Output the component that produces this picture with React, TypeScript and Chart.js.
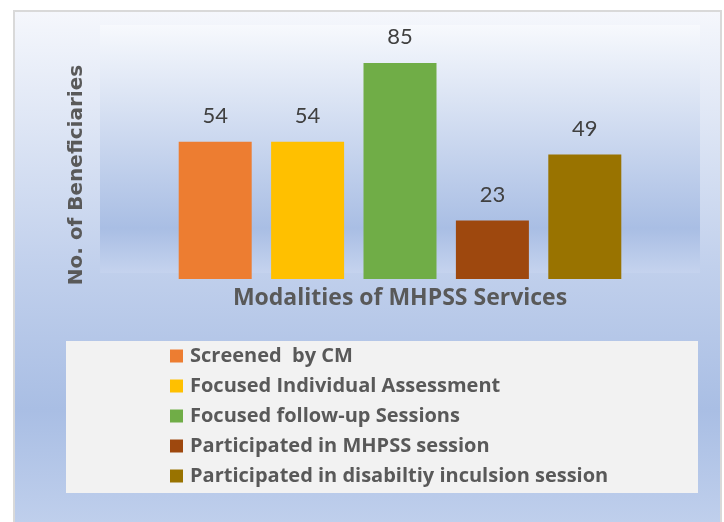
import React, { useEffect, useRef } from "react";
import { Chart, registerables } from "chart.js";

Chart.register(...registerables);

const categories = [
  "Screened  by CM",
  "Focused Individual Assessment",
  "Focused follow-up Sessions",
  "Participated in MHPSS session",
  "Participated in disabiltiy inculsion session",
];
const values = [54, 54, 85, 23, 49];
const colors = ["#ED7D31", "#FFC000", "#70AD47", "#9E480E", "#997300"];
const xTitle = "Modalities of MHPSS Services";
const yTitle = "No. of Beneficiaries";
const yMax = 100;

const decorPlugin = {
  id: "decor",
  beforeDraw(chart: any) {
    const { ctx, chartArea } = chart;
    const W = chart.width;
    const H = chart.height;
    ctx.save();
    ctx.fillStyle = "#ffffff";
    ctx.fillRect(0, 0, W, H);
    const fx = 14, fy = 11, fw = 707, fh = H - fy + 5;
    const g = ctx.createLinearGradient(0, fy, 0, H);
    g.addColorStop(0, "#f5f7fc");
    g.addColorStop(0.5, "#c1d0ec");
    g.addColorStop(0.78, "#a9bee4");
    g.addColorStop(1, "#bfcfec");
    ctx.fillStyle = g;
    ctx.fillRect(fx, fy, fw, fh);
    ctx.strokeStyle = "#d9d9d9";
    ctx.lineWidth = 2;
    ctx.strokeRect(fx, fy, fw, fh);
    const py0 = chartArea.top;
    const py1 = chartArea.bottom - 6;
    const pg = ctx.createLinearGradient(0, py0, 0, py1);
    pg.addColorStop(0, "#f7f9fd");
    pg.addColorStop(0.82, "#a9bee4");
    pg.addColorStop(1, "#c5d3ee");
    ctx.fillStyle = pg;
    ctx.fillRect(chartArea.left, py0, chartArea.right - chartArea.left, py1 - py0);
    ctx.restore();
  },
  afterDatasetsDraw(chart: any) {
    const { ctx } = chart;
    ctx.save();
    ctx.fillStyle = "#404040";
    ctx.font = "22px Lato";
    ctx.textAlign = "center";
    ctx.textBaseline = "middle";
    chart.data.datasets.forEach((ds: any, i: number) => {
      const meta = chart.getDatasetMeta(i);
      meta.data.forEach((el: any, j: number) => {
        ctx.fillText(String(ds.data[j]), el.x, el.y - 26);
      });
    });
    ctx.restore();
  },
  afterDraw(chart: any) {
    const { ctx, chartArea } = chart;
    ctx.save();
    ctx.fillStyle = "#595959";
    ctx.font = "bold 23px 'Open Sans'";
    ctx.textAlign = "center";
    ctx.textBaseline = "middle";
    ctx.fillText(xTitle, (chartArea.left + chartArea.right) / 2, 298);
    ctx.save();
    ctx.translate(77, 175);
    ctx.rotate(-Math.PI / 2);
    ctx.font = "bold 20px 'DejaVu Sans'";
    ctx.fillText(yTitle, 0, 0);
    ctx.restore();
    ctx.fillStyle = "#f2f2f2";
    ctx.fillRect(66, 341, 632, 152);
    ctx.font = "bold 20px 'Open Sans'";
    ctx.textAlign = "left";
    ctx.textBaseline = "middle";
    chart.data.datasets.forEach((ds: any, i: number) => {
      const cy = 356 + i * 30;
      ctx.fillStyle = ds.backgroundColor;
      ctx.fillRect(170, cy - 6.5, 13, 13);
      ctx.fillStyle = "#595959";
      ctx.fillText(ds.label, 190, cy);
    });
    ctx.restore();
  },
};

export default function App() {
  const ref = useRef<HTMLCanvasElement>(null);
  useEffect(() => {
    if (!ref.current) return;
    const chart = new Chart(ref.current, {
      type: "bar",
      data: {
        labels: [""],
        datasets: categories.map((c, i) => ({
          label: c,
          data: [values[i]],
          backgroundColor: colors[i],
          borderWidth: 0,
          categoryPercentage: 0.77,
          barPercentage: 0.79,
        })),
      },
      options: {
        responsive: false,
        animation: false,
        devicePixelRatio: 1,
        layout: { padding: { left: 100, right: 24, top: 25, bottom: 243 } },
        plugins: { legend: { display: false }, tooltip: { enabled: false } },
        scales: {
          x: { display: false },
          y: { display: false, min: 0, max: yMax },
        },
      },
      plugins: [decorPlugin],
    });
    return () => chart.destroy();
  }, []);
  return (
    <div style={{ position: "absolute", left: 0, top: 0, width: 724, height: 522 }}>
      <canvas ref={ref} width={724} height={522} style={{ width: 724, height: 522, display: "block" }} />
    </div>
  );
}
